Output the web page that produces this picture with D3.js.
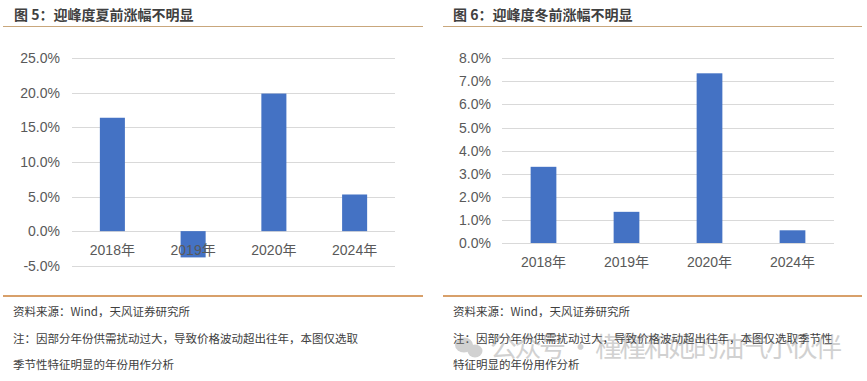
<!DOCTYPE html>
<html><head><meta charset="utf-8">
<script src="https://cdn.jsdelivr.net/npm/d3@7"></script>
<style>
html,body{margin:0;padding:0;background:#fff;}
svg{display:block;font-family:"Liberation Sans","Noto Sans CJK SC",sans-serif;}
</style></head>
<body><svg id="c" width="867" height="381"></svg>
<script>
const categories = ["2018年","2019年","2020年","2024年"];
const summerValues = [16.4, -3.8, 19.9, 5.3];
const winterValues = [3.3, 1.35, 7.35, 0.55];
const summerTicks = [-5, 0, 5, 10, 15, 20, 25];
const winterTicks = [0, 1, 2, 3, 4, 5, 6, 7, 8];
const titles = ["图 5：迎峰度夏前涨幅不明显", "图 6：迎峰度冬前涨幅不明显"];
const sourceText = "资料来源：Wind，天风证券研究所";
const notesLeft = ["注：因部分年份供需扰动过大，导致价格波动超出往年，本图仅选取", "季节性特征明显的年份用作分析"];
const notesRight = ["注：因部分年份供需扰动过大，导致价格波动超出往年，本图仅选取季节性", "特征明显的年份用作分析"];
const watermark = "公众号 · 槿槿和她的油气小伙伴";

const svg = d3.select("#c");
const cjk = '"Noto Sans CJK SC","Liberation Sans",sans-serif';

function panel(o){
  const g = svg.append("g");
  g.append("text").attr("x", o.titleX).attr("y", 20)
    .attr("font-family", cjk).attr("font-weight", "bold").attr("font-size", 14)
    .attr("fill", "#404040").text(o.title);
  g.append("line").attr("x1", o.x0).attr("x2", o.x1).attr("y1", 26.5).attr("y2", 26.5)
    .attr("stroke", "#c9a77c").attr("stroke-width", 1);
  g.append("line").attr("x1", o.x0).attr("x2", o.x1).attr("y1", 296).attr("y2", 296)
    .attr("stroke", "#d8a06a").attr("stroke-width", 2);

  const y = d3.scaleLinear().domain(o.domain).range([o.yBottom, o.yTop]);
  const x = d3.scaleBand().domain(categories).range([o.px0, o.px1]).paddingInner(0.69).paddingOuter(0.345);

  const axisY = d3.axisLeft(y).tickValues(o.ticks).tickSize(0).tickPadding(0)
    .tickFormat(d => d.toFixed(1) + "%");
  const ay = g.append("g").attr("transform", `translate(${o.labelX},0)`).call(axisY);
  ay.select(".domain").remove();
  ay.selectAll("text").attr("font-size", 14).attr("fill", "#595959")
    .attr("font-family", '"Liberation Sans",sans-serif');

  g.append("g").selectAll("line").data(o.ticks).join("line")
    .attr("x1", o.px0).attr("x2", o.px1)
    .attr("y1", d => Math.round(y(d)) + 0.5).attr("y2", d => Math.round(y(d)) + 0.5)
    .attr("stroke", "#d9d9d9").attr("stroke-width", 1);

  g.append("g").selectAll("rect").data(o.values).join("rect")
    .attr("x", (d, i) => x(categories[i]))
    .attr("width", x.bandwidth())
    .attr("y", d => y(Math.max(0, d)))
    .attr("height", d => Math.abs(y(d) - y(0)))
    .attr("fill", "#4472c4");

  const axisX = d3.axisBottom(x).tickSize(0).tickPadding(0);
  const ax = g.append("g").attr("transform", `translate(0,${o.catY})`).call(axisX);
  ax.select(".domain").remove();
  ax.selectAll("text").attr("font-size", 14).attr("fill", "#595959")
    .attr("font-family", '"Liberation Sans","Noto Sans CJK SC",sans-serif').attr("dy", "0.32em").attr("y", 0);

  g.append("text").attr("x", o.textX).attr("y", 316).attr("font-family", cjk)
    .attr("font-size", 11.5).attr("fill", "#404040").text(sourceText);
  o.notes.forEach((t, i) => {
    g.append("text").attr("x", o.textX).attr("y", 343 + i * 26).attr("font-family", cjk)
      .attr("font-size", 11.5).attr("fill", "#404040").text(t);
  });
}

panel({title: titles[0], titleX: 14, x0: 3, x1: 423, domain: [-5, 25], ticks: summerTicks,
  yTop: 58.3, yBottom: 265.7, px0: 72, px1: 395, labelX: 60, values: summerValues,
  catY: 250.5, textX: 13, notes: notesLeft});
panel({title: titles[1], titleX: 453, x0: 443, x1: 862, domain: [0, 8], ticks: winterTicks,
  yTop: 58.3, yBottom: 243, px0: 502, px1: 834, labelX: 491, values: winterValues,
  catY: 263, textX: 453, notes: notesRight});

// watermark overlay
const wm = svg.append("g").attr("opacity", 0.33);
wm.append("ellipse").attr("cx", 464).attr("cy", 345).attr("rx", 9).attr("ry", 7.5).attr("fill", "#777");
wm.append("ellipse").attr("cx", 475).attr("cy", 351).attr("rx", 7.5).attr("ry", 6.5).attr("fill", "#777");
wm.append("text").attr("x", 490).attr("y", 357).attr("font-family", cjk).attr("font-size", 27)
  .attr("textLength", 352).attr("lengthAdjust", "spacing")
  .attr("fill", "#777").text(watermark);
</script></body></html>
